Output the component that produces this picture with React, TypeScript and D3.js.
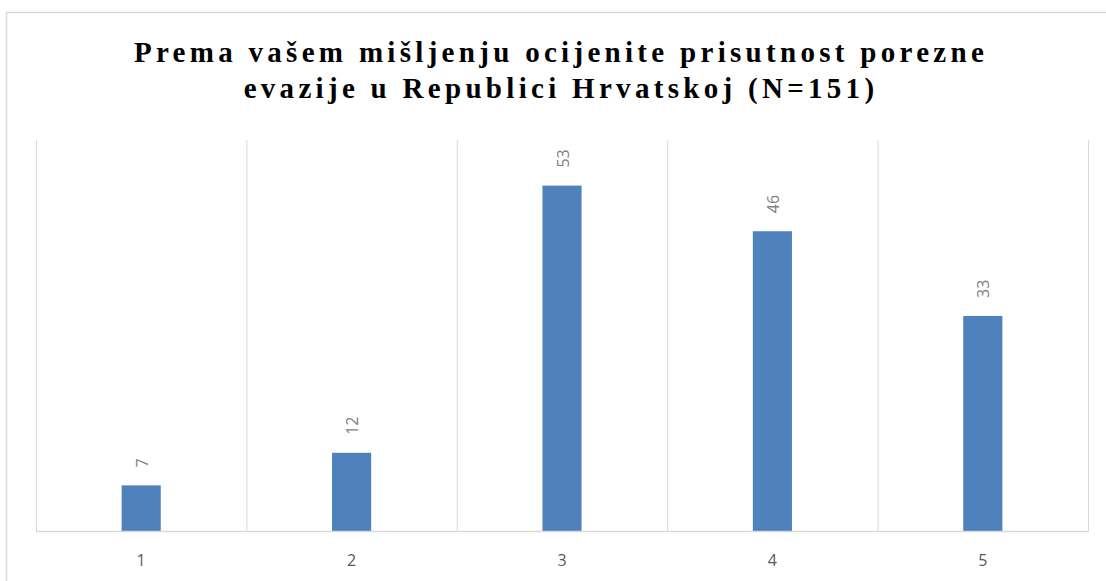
import React, { useEffect, useRef } from 'react';
import * as d3 from 'd3';

const categories = ['1', '2', '3', '4', '5'];
const values = [7, 12, 53, 46, 33];
const titleLines = [
	'Prema vašem mišljenju ocijenite prisutnost porezne',
	'evazije u Republici Hrvatskoj (N=151)',
];

function App() {
	const svgRef = useRef(null);

	useEffect(() => {
		const w = 1106;
		const h = 581;
		const left = 36;
		const right = 1088;
		const top = 140;
		const bottom = 531;

		const svg = d3.select(svgRef.current);
		svg.selectAll('*').remove();

		// frame of the chart
		svg.append('rect')
			.attr('x', 6.5)
			.attr('y', 12.5)
			.attr('width', w + 10)
			.attr('height', h)
			.attr('fill', '#fff')
			.attr('stroke', '#d9d9d9')
			.attr('stroke-width', 1.5);

		svg.append('g')
			.selectAll('text')
			.data(titleLines)
			.join('text')
			.attr('x', 561)
			.attr('y', (d, i) => 62 + i * 36)
			.attr('text-anchor', 'middle')
			.style('font-family', '"Liberation Serif", "Times New Roman", serif')
			.style('font-weight', 'bold')
			.style('font-size', '29px')
			.style('letter-spacing', '4.3px')
			.attr('fill', '#000')
			.text(d => d);

		const x = d3.scaleBand().domain(categories).range([left, right]).padding(0);
		const y = d3.scaleLinear().domain([0, 60]).range([bottom, top]);

		// vertical gridlines on category edges
		const edges = categories.map(c => x(c)).concat([right]);
		svg.append('g')
			.selectAll('line')
			.data(edges)
			.join('line')
			.attr('x1', d => d + 0.5)
			.attr('x2', d => d + 0.5)
			.attr('y1', top)
			.attr('y2', bottom)
			.attr('stroke', '#d9d9d9')
			.attr('stroke-width', 1);

		const bw = x.bandwidth() * 0.186;
		svg.append('g')
			.selectAll('rect')
			.data(values)
			.join('rect')
			.attr('x', (d, i) => x(categories[i]) + x.bandwidth() / 2 - bw / 2)
			.attr('y', d => y(d))
			.attr('width', bw)
			.attr('height', d => bottom - y(d))
			.attr('fill', '#4f81bd');

		svg.append('line')
			.attr('x1', left)
			.attr('x2', right + 1)
			.attr('y1', bottom + 0.5)
			.attr('y2', bottom + 0.5)
			.attr('stroke', '#d9d9d9')
			.attr('stroke-width', 1.5);

		// value labels, rotated
		svg.append('g')
			.selectAll('text')
			.data(values)
			.join('text')
			.attr('transform', (d, i) => `translate(${x(categories[i]) + x.bandwidth() / 2 + 6.5},${y(d) - 18}) rotate(-90)`)
			.attr('text-anchor', 'start')
			.style('font-family', '"Open Sans", sans-serif')
			.style('font-size', '16px')
			.attr('fill', '#7f7f7f')
			.text(d => d);

		// category labels
		svg.append('g')
			.selectAll('text')
			.data(categories)
			.join('text')
			.attr('x', d => x(d) + x.bandwidth() / 2)
			.attr('y', 566)
			.attr('text-anchor', 'middle')
			.style('font-family', '"Open Sans", sans-serif')
			.style('font-size', '16px')
			.attr('fill', '#595959')
			.text(d => d);
	}, []);

	return (
		<svg ref={svgRef} width={1106} height={581} style={{ position: 'absolute', left: 0, top: 0 }} />
	);
}

export default App;
